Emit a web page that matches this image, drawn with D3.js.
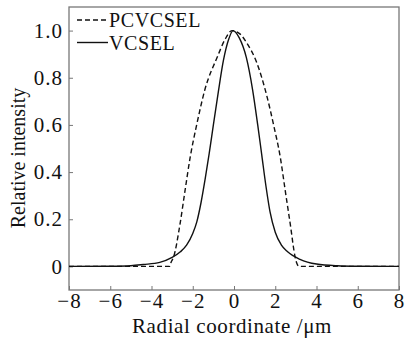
<!DOCTYPE html>
<html>
<head>
<meta charset="utf-8">
<script src="https://cdn.jsdelivr.net/npm/d3@7/dist/d3.min.js"></script>
<style>
  body { margin: 0; background: #fff; }
  svg { display: block; }
  svg text { font-family: "Liberation Serif", "Times New Roman", Times, "DejaVu Serif", serif; }
</style>
</head>
<body>
<svg id="chart"></svg>
<script>
// values
const pcvcselX = [-8, -3.12, -3.05, -2.94, -2.62, -2.38, -2.13, -1.81, -1.41, -0.8, -0.45, -0.1, 0.3, 0.6, 1.1, 1.6, 1.92, 2.25, 2.49, 2.73, 2.97, 3.05, 3.15, 8];
const pcvcselY = [0, 0, 0.018, 0.037, 0.178, 0.318, 0.46, 0.60, 0.75, 0.89, 0.96, 1.0, 0.985, 0.95, 0.865, 0.72, 0.60, 0.46, 0.318, 0.178, 0.037, 0.012, 0, 0];

const vcselX = [-8, -6, -5, -4.4, -3.6, -3.0, -2.6, -2.3, -2.0, -1.8, -1.6, -1.4, -1.2, -1.0, -0.76, -0.52, -0.25, -0.05, 0.25, 0.6, 0.9, 1.15, 1.35, 1.55, 1.75, 2.0, 2.3, 2.6, 3.2, 4.0, 5, 6, 8];
const vcselY = [0, 0.001, 0.003, 0.008, 0.017, 0.038, 0.062, 0.09, 0.14, 0.19, 0.27, 0.37, 0.48, 0.60, 0.74, 0.87, 0.965, 1.0, 0.97, 0.885, 0.75, 0.60, 0.47, 0.34, 0.23, 0.145, 0.09, 0.062, 0.03, 0.01, 0.003, 0.001, 0];

const xTicks = [-8, -6, -4, -2, 0, 2, 4, 6, 8];
const yTicks = [0, 0.2, 0.4, 0.6, 0.8, 1.0];
const seriesNames = ["PCVCSEL", "VCSEL"];

const W = 406, H = 342;

const svg = d3.select("#chart").attr("width", W).attr("height", H);

const x = d3.scaleLinear().domain([-8, 8]).range([69, 399]);
const y = d3.scaleLinear().domain([-0.1, 1.1]).range([290, 7]);

const fmtX = d => d < 0 ? "\u2212" + Math.abs(d) : String(d);
const fmtY = d => d === 0 ? "0" : d3.format(".1f")(d);

// axes with inward ticks
const gx = svg.append("g")
    .attr("transform", `translate(0,${y.range()[0]})`)
    .call(d3.axisBottom(x).tickValues(xTicks).tickFormat(fmtX).tickSizeInner(-4).tickSizeOuter(0).tickPadding(3));
const gy = svg.append("g")
    .attr("transform", `translate(${x.range()[0]},0)`)
    .call(d3.axisLeft(y).tickValues(yTicks).tickFormat(fmtY).tickSizeInner(-4).tickSizeOuter(0).tickPadding(6));

[gx, gy].forEach(g => {
    g.attr("font-family", null);
    g.select(".domain").remove();
    g.selectAll("line").attr("stroke", "#777").attr("stroke-width", 1);
    g.selectAll("text")
        .attr("font-size", 21)
        .attr("letter-spacing", 1)
        .attr("fill", "#111");
});

// frame
svg.append("rect")
    .attr("x", x.range()[0])
    .attr("y", y.range()[1])
    .attr("width", x.range()[1] - x.range()[0])
    .attr("height", y.range()[0] - y.range()[1])
    .attr("fill", "none")
    .attr("stroke", "#777")
    .attr("stroke-width", 1.3);

const line = d3.line()
    .x(d => x(d[0]))
    .y(d => y(d[1]))
    .curve(d3.curveMonotoneX);

svg.append("path")
    .datum(d3.zip(pcvcselX, pcvcselY))
    .attr("d", line)
    .attr("fill", "none")
    .attr("stroke", "#111")
    .attr("stroke-width", 1.4)
    .attr("stroke-dasharray", "5,3");

svg.append("path")
    .datum(d3.zip(vcselX, vcselY))
    .attr("d", line)
    .attr("fill", "none")
    .attr("stroke", "#111")
    .attr("stroke-width", 1.4);

// legend
const legend = svg.append("g");
seriesNames.forEach((name, i) => {
    const ly = 20 + i * 22.5;
    legend.append("line")
        .attr("x1", 77).attr("x2", 108)
        .attr("y1", ly).attr("y2", ly)
        .attr("stroke", "#111")
        .attr("stroke-width", 1.4)
        .attr("stroke-dasharray", i === 0 ? "5,3" : null);
    legend.append("text")
        .attr("x", 109)
        .attr("y", ly + 7)
        .attr("font-size", 20)
        .attr("letter-spacing", 0.6)
        .attr("fill", "#111")
        .text(name);
});

// axis titles
svg.append("text")
    .attr("x", 232)
    .attr("y", 333)
    .attr("text-anchor", "middle")
    .attr("font-size", 21)
    .attr("letter-spacing", 0.6)
    .attr("fill", "#111")
    .text("Radial coordinate /\u03bcm");

svg.append("text")
    .attr("transform", "translate(25,158) rotate(-90)")
    .attr("text-anchor", "middle")
    .attr("font-size", 20)
    .attr("fill", "#111")
    .text("Relative intensity");
</script>
</body>
</html>
